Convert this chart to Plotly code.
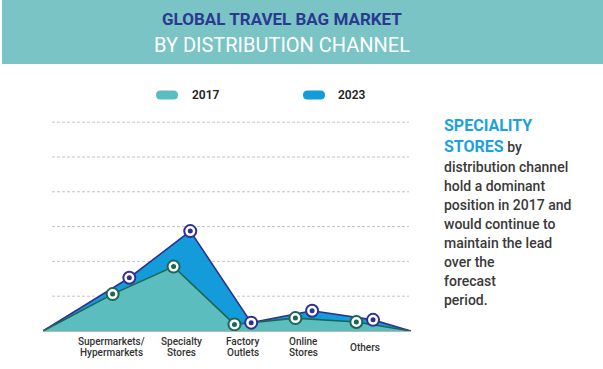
import plotly.graph_objects as go

# ---------------- data ----------------
cat_lines = [["Supermarkets/", "Hypermarkets"], ["Specialty", "Stores"],
             ["Factory", "Outlets"], ["Online", "Stores"], ["Others"]]
years = ["2017", "2023"]
values_2017 = [10.6, 18.5, 1.9, 3.7, 2.6]
values_2023 = [15.3, 28.7, 2.4, 5.8, 3.2]
grid_values = [10, 20, 30, 40, 50, 60]

title_1 = "GLOBAL TRAVEL BAG MARKET"
title_2 = "BY DISTRIBUTION CHANNEL"
side_head = ["SPECIALITY", "STORES"]
side_body = ["distribution channel", "hold a dominant", "position in 2017 and",
             "would continue to", "maintain the lead", "over the", "forecast", "period."]

# ---------------- geometry / style ----------------
W, H = 603, 369
PL, PR, PT, PB = 43, 411, 118, 331
def fx(px): return (px - PL) / (PR - PL)
def fy(py): return (PB - py) / (PB - PT)

OFF = 0.137          # year offset around category centre
X_START, X_END = -1.28, 4.76
C17_FILL, C17_LINE = "#5bbdbe", "#1c6653"
C23_FILL, C23_LINE = "#139cd9", "#2e3192"
FONT = "Roboto"

n = len(values_2017)
idx = list(range(n))
x17 = [i - OFF for i in idx]
x23 = [i + OFF for i in idx]

fig = go.Figure()

def area(xs, ys, fill, line, name):
    fig.add_trace(go.Scatter(
        x=[X_START] + xs + [X_END], y=[0] + ys + [0], mode="lines",
        fill="toself", fillcolor=fill, line=dict(color=line, width=1.6),
        name=name, hoverinfo="skip", showlegend=False))

def markers(xs, ys, col):
    fig.add_trace(go.Scatter(x=xs, y=ys, mode="markers", showlegend=False,
                             marker=dict(size=12, color="white", line=dict(color=col, width=2)),
                             hoverinfo="skip", cliponaxis=False))
    fig.add_trace(go.Scatter(x=xs, y=ys, mode="markers", showlegend=False,
                             marker=dict(size=5, color=col, line=dict(width=0)),
                             hoverinfo="skip", cliponaxis=False))

area(x23, values_2023, C23_FILL, C23_LINE, years[1])
area(x17, values_2017, C17_FILL, C17_LINE, years[0])
markers(x17, values_2017, C17_LINE)
markers(x23, values_2023, C23_LINE)

shapes = []
# banner
shapes.append(dict(type="rect", xref="paper", yref="paper", x0=fx(2), x1=fx(603),
                   y0=fy(64), y1=fy(0), fillcolor="#7ac4c6", line=dict(width=0), layer="below"))
# dashed grid
for g in grid_values:
    shapes.append(dict(type="line", xref="paper", yref="y", x0=fx(52), x1=fx(409), y0=g, y1=g,
                       line=dict(color="#c4c4c4", width=1, dash="3px,2px"), layer="below"))

# legend pills
def pill(x0, x1, y0, y1, col):
    r = (y1 - y0) / 2
    ym = (y0 + y1) / 2
    pts = [("M", x0 + r, y0), ("L", x1 - r, y0), ("Q", x1, y0, x1, ym), ("Q", x1, y1, x1 - r, y1),
           ("L", x0 + r, y1), ("Q", x0, y1, x0, ym), ("Q", x0, y0, x0 + r, y0)]
    path = ""
    for p in pts:
        cmd = p[0]
        coords = p[1:]
        s = " ".join(f"{fx(coords[k]):.5f},{fy(coords[k+1]):.5f}" for k in range(0, len(coords), 2))
        path += f"{cmd}{s} "
    path += "Z"
    shapes.append(dict(type="path", xref="paper", yref="paper", path=path,
                       fillcolor=col, line=dict(width=0)))

pill(156, 178, 90.5, 99.5, C17_FILL)
pill(303, 325, 90.5, 99.5, C23_FILL)

ann = []
ann.append(dict(text=f"<b>{title_1}</b>", x=fx(282), y=fy(18.5), xref="paper", yref="paper",
                showarrow=False, font=dict(family=FONT, size=17, color="#2b3990"),
                xanchor="center", yanchor="middle"))
ann.append(dict(text=title_2, x=fx(282), y=fy(45), xref="paper", yref="paper",
                showarrow=False, font=dict(family=FONT, size=20, color="white"),
                xanchor="center", yanchor="middle"))
# legend text
for t, xp in zip(years, [190, 336]):
    ann.append(dict(text=t, x=fx(xp), y=fy(95), xref="paper", yref="paper", showarrow=False,
                    font=dict(family=FONT, size=12, color="#222222", weight=600),
                    xanchor="left", yanchor="middle"))
# category labels
for i, lines in enumerate(cat_lines):
    ys = [347.5] if len(lines) == 1 else [341.5, 352.5]
    xs = -9 if i == 0 else 0
    for line, yp in zip(lines, ys):
        ann.append(dict(text=line, x=i, xref="x", y=fy(yp), yref="paper", showarrow=False,
                        xshift=xs, font=dict(family=FONT, size=10, color="#333333", weight=500),
                        xanchor="center", yanchor="middle"))
# side text
ann.append(dict(text=f"<b>{side_head[0]}</b>", x=fx(442), y=fy(125), xref="paper", yref="paper",
                showarrow=False, font=dict(family=FONT, size=16, color="#1ba1e2"),
                xanchor="left", yanchor="middle"))
ann.append(dict(text=f"<b><span style='color:#1ba1e2;font-size:16px'>{side_head[1]}</span></b>"
                     f"<span style='font-weight:500'> by</span>",
                x=fx(442), y=fy(146), xref="paper", yref="paper",
                showarrow=False, font=dict(family=FONT, size=14, color="#3a3a3a"),
                xanchor="left", yanchor="middle"))
for k, line in enumerate(side_body):
    ann.append(dict(text=line, x=fx(442), y=fy(167 + 19 * k), xref="paper", yref="paper",
                    showarrow=False, font=dict(family=FONT, size=14, color="#3a3a3a", weight=500),
                    xanchor="left", yanchor="middle"))

fig.update_layout(
    width=W, height=H, margin=dict(l=PL, r=W - PR, t=PT, b=H - PB, pad=0),
    paper_bgcolor="white", plot_bgcolor="white", showlegend=False,
    xaxis=dict(range=[X_START, X_END], showgrid=False, zeroline=False, showticklabels=False,
               showline=True, linecolor="#b5b5b5", linewidth=1, ticks="", fixedrange=True),
    yaxis=dict(range=[0, 61.2], showgrid=False, zeroline=False, showticklabels=False,
               showline=False, ticks="", fixedrange=True),
    shapes=shapes, annotations=ann,
)

fig.write_html("out.html", config={"displayModeBar": False},
               post_script="document.body.style.margin='0';document.body.style.overflow='hidden';")
